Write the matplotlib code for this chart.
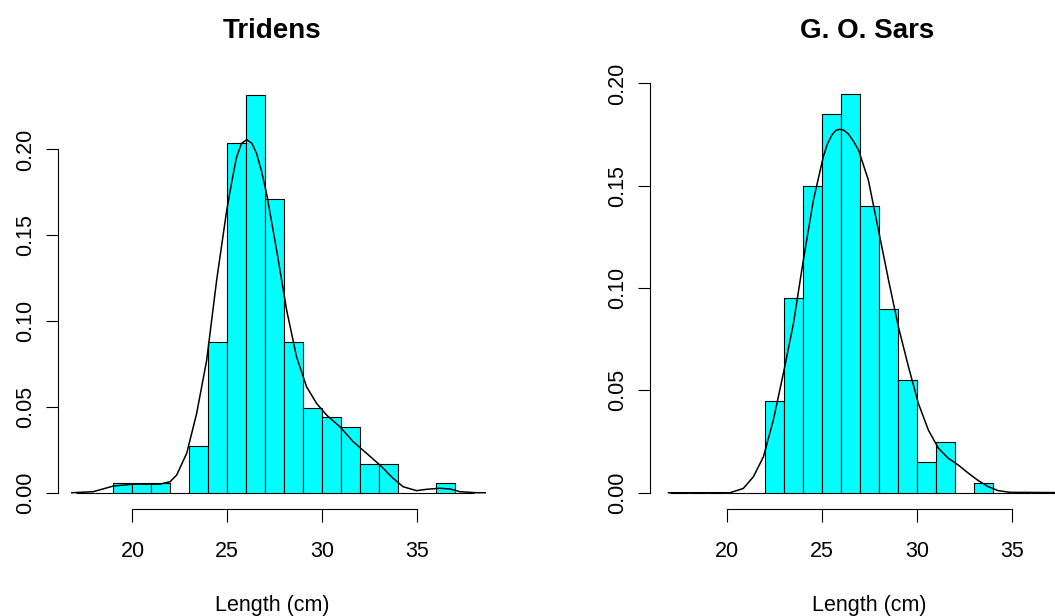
import numpy as np
import matplotlib.pyplot as plt

plt.rcParams['font.family'] = ['Liberation Sans', 'DejaVu Sans']

# histogram breaks (cm) and densities
breaks = list(range(17, 39))
tridens_density = [0, 0, 0.0055, 0.0055, 0.0055, 0, 0.0275, 0.088, 0.204, 0.232,
                   0.171, 0.088, 0.0495, 0.044, 0.0385, 0.0165, 0.0165, 0, 0,
                   0.0055, 0]
sars_density = [0, 0, 0, 0, 0, 0.045, 0.095, 0.15, 0.185, 0.195, 0.14, 0.09,
                0.055, 0.015, 0.025, 0, 0.005, 0, 0, 0, 0]

# density curves
tridens_kx = [16.8, 17.93, 18.99, 20.04, 21.45, 21.98, 22.33, 22.86, 23.38, 23.91,
              24.44, 24.97, 25.25, 25.49, 25.75, 26.02, 26.3, 26.55, 26.8, 27.07,
              27.6, 28.13, 28.65, 29.18, 29.71, 30.24, 30.94, 31.64, 32.35, 33.05,
              33.74, 34.27, 34.98, 35.51, 36.21, 36.74, 37.26, 38.14, 38.6]
tridens_ky = [0, 0.0006, 0.0039, 0.005, 0.005, 0.0064, 0.0103, 0.023, 0.046, 0.077,
              0.124, 0.1646, 0.182, 0.1956, 0.2035, 0.2057, 0.2035, 0.1975, 0.1875, 0.1743,
              0.1413, 0.1063, 0.0792, 0.0617, 0.052, 0.0452, 0.0384, 0.0297, 0.0229, 0.0161,
              0.0084, 0.0035, 0.0012, 0.002, 0.0026, 0.0022, 0.0006, 0, 0]
sars_kx = [16.93, 20.17, 20.87, 21.4, 21.93, 22.45, 22.98, 23.51, 24.03, 24.56,
           25.08, 25.3, 25.53, 25.73, 25.93, 26.15, 26.4, 26.65, 26.93, 27.45,
           27.98, 28.51, 29.03, 29.56, 30.08, 30.61, 31.14, 31.66, 32.19, 32.72,
           33.24, 33.77, 34.29, 34.91, 38.6]
sars_ky = [0, 0, 0.0021, 0.0078, 0.0176, 0.0355, 0.0584, 0.0828, 0.1137, 0.143,
           0.1642, 0.1705, 0.1748, 0.1770, 0.1776, 0.1772, 0.1753, 0.1720, 0.1675, 0.1528,
           0.1284, 0.104, 0.0811, 0.0616, 0.0437, 0.0306, 0.0217, 0.0168, 0.0135, 0.0095,
           0.0059, 0.0029, 0.001, 0.0002, 0]

fig = plt.figure(figsize=(10.55, 6.16), dpi=100)
W, H = 1055, 616


def panel(left_px, width_px, xlim, ylim, dens, kx, ky):
    ax = fig.add_axes([left_px / W, (H - 508.7) / H, width_px / W, 431 / H])
    lefts = np.array(breaks[:-1])
    ax.bar(lefts, dens, width=1, align='edge', color='#00FFFF',
           edgecolor='black', linewidth=0.8)
    ax.plot(kx, ky, color='black', linewidth=1.1)
    ax.set_xlim(*xlim)
    ax.set_ylim(*ylim)
    for s in ['top', 'right']:
        ax.spines[s].set_visible(False)
    ax.spines['left'].set_bounds(0, 0.20)
    ax.spines['bottom'].set_bounds(20, 35)
    ax.spines['left'].set_linewidth(0.8)
    ax.spines['bottom'].set_linewidth(0.8)
    ax.set_xticks([20, 25, 30, 35])
    ax.set_yticks([0, 0.05, 0.10, 0.15, 0.20])
    ax.set_yticklabels(['0.00', '0.05', '0.10', '0.15', '0.20'])
    ax.tick_params(axis='both', direction='out', length=9, width=0.8, labelsize=15.5)
    ax.tick_params(axis='x', pad=14)
    ax.tick_params(axis='y', pad=7, labelrotation=90)
    for lbl in ax.get_yticklabels():
        lbl.set_va('center')
    return ax


panel(58.3, 430, (16.09, 38.76), (-0.0093, 0.2418),
      tridens_density, tridens_kx, tridens_ky)
panel(650, 431, (15.96, 38.64), (-0.0078, 0.2028),
      sars_density, sars_kx, sars_ky)

fig.text(272 / W, 1 - 38.3 / H, 'Tridens', ha='center', va='baseline',
         fontsize=20, fontweight='bold')
fig.text(867.5 / W, 1 - 38.3 / H, 'G. O. Sars', ha='center', va='baseline',
         fontsize=20, fontweight='bold')
fig.text(272 / W, 1 - 610.5 / H, 'Length (cm)', ha='center', va='baseline', fontsize=15.5)
fig.text(869 / W, 1 - 610.5 / H, 'Length (cm)', ha='center', va='baseline', fontsize=15.5)

fig.savefig('out.png', dpi=100)
